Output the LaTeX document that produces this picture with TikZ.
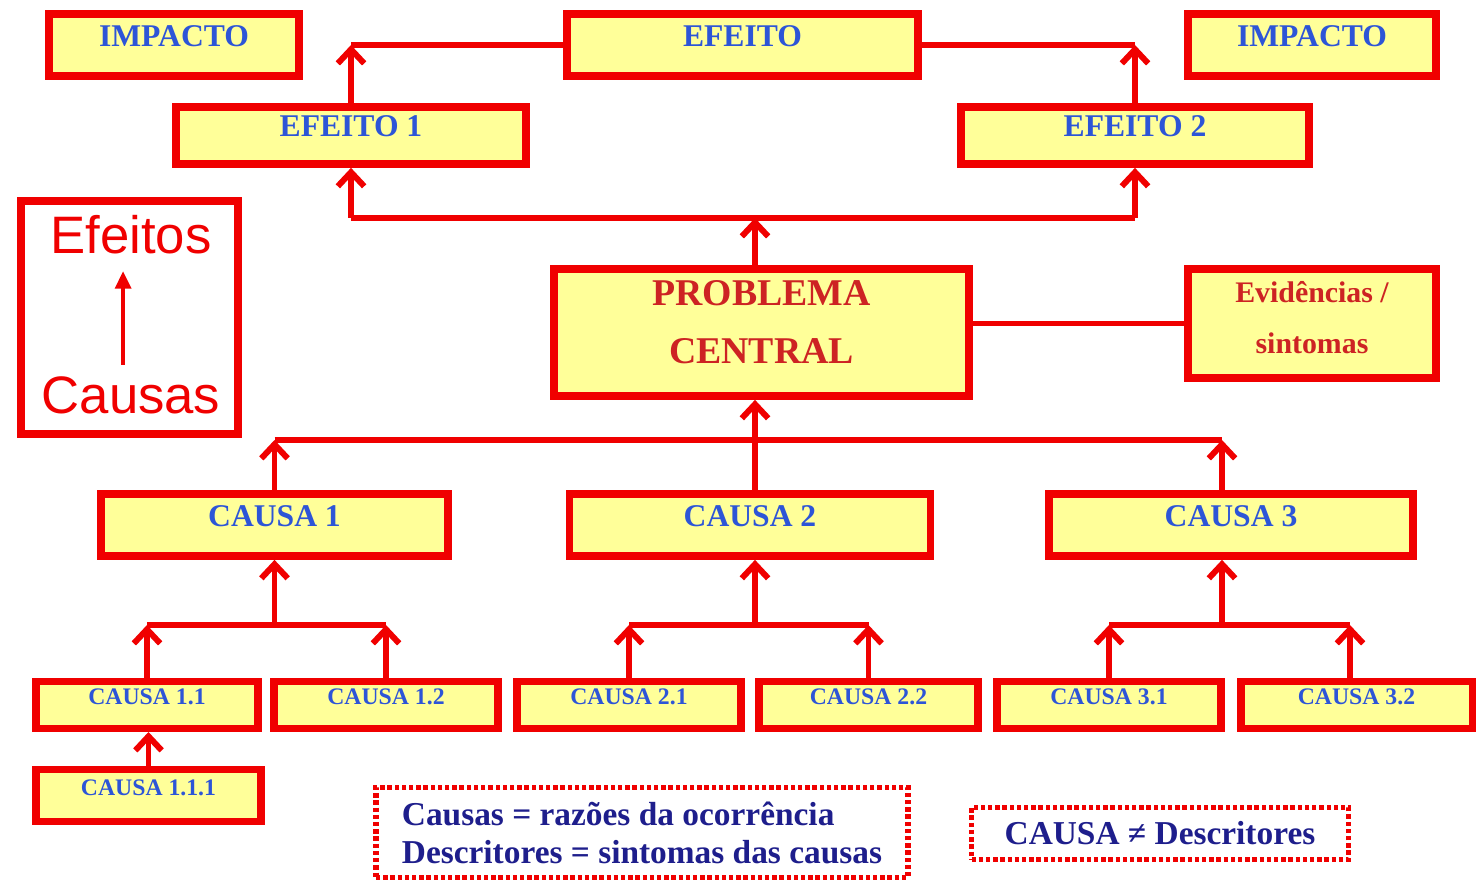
\documentclass[tikz,border=0pt]{standalone}
\usepackage{fontspec}
\setmainfont{Liberation Serif}
\newfontfamily\sansf{Liberation Sans}
\usetikzlibrary{arrows.meta}
\definecolor{lred}{RGB}{240,0,0}
\definecolor{lyel}{RGB}{255,255,153}
\definecolor{lblue}{RGB}{45,85,215}
\definecolor{pred}{RGB}{205,35,35}
\definecolor{lnavy}{RGB}{30,30,140}
\begin{document}
\begin{tikzpicture}[x=0.02cm,y=-0.02cm,
  box/.style={draw=lred, line width=4.4pt, fill=lyel, inner sep=0pt},
  sbox/.style={draw=lred, line width=4pt, fill=lyel, inner sep=0pt},
  wpx/.style={minimum width=#1*0.02cm},
  hpx/.style={minimum height=#1*0.02cm},
  lbl/.style={text=lblue, font=\bfseries\fontsize{18}{21}\selectfont},
  slbl/.style={text=lblue, font=\bfseries\fontsize{13.5}{16}\selectfont},
  ptext/.style={text=pred, font=\bfseries\fontsize{21.5}{33}\selectfont, align=center},
  etext/.style={text=pred, font=\bfseries\fontsize{17}{29}\selectfont, align=center},
  note/.style={draw=lred, line width=3pt, dash pattern=on 2.5pt off 1.6pt, fill=white, inner sep=0pt,
    text=lnavy, font=\bfseries\fontsize{19}{21.6}\selectfont},
  conn/.style={draw=lred, line width=3.4pt},
  arr/.style={conn, -{Straight Barb[length=8pt,width=15pt]}},
  legarr/.style={draw=lred, line width=2.2pt, -{Triangle[length=10pt,width=9pt]}},
]
\useasboundingbox (0,0) rectangle (1478,885);
\fill[white] (0,0) rectangle (1478,885);

% top row
\node[box,wpx=250,hpx=62,label={[lbl,yshift=5pt]center:IMPACTO}] (imp1) at (174,45) {};
\node[box,wpx=351,hpx=62,label={[lbl,yshift=5pt]center:EFEITO}] (efeito) at (742.5,45) {};
\node[box,wpx=248,hpx=62,label={[lbl,yshift=5pt]center:IMPACTO}] (imp2) at (1312,45) {};
\node[box,wpx=350,hpx=57,label={[lbl,yshift=5.5pt]center:EFEITO 1}] (ef1) at (351,135.5) {};
\node[box,wpx=348,hpx=57,label={[lbl,yshift=5.5pt]center:EFEITO 2}] (ef2) at (1135,135.5) {};

% legend box
\node[draw=lred, line width=4.4pt, fill=white, wpx=217, hpx=233] (leg) at (129.5,317.5) {};
\node[text=lred, font=\sansf\fontsize{30}{36}\selectfont] (eff) at (131,235) {Efeitos};
\node[text=lred, font=\sansf\fontsize{30}{36}\selectfont] (cau) at (131,395) {Causas};
\draw[legarr, shorten <=3pt, shorten >=6pt] ([xshift=-4.5pt]cau.north) -- ([xshift=-4.5pt]eff.south);

% central problem
\node[box,wpx=415,hpx=127,label={[ptext,yshift=5.7pt]center:PROBLEMA\\CENTRAL}] (prob) at (761.5,332.5) {};
\node[box,wpx=248,hpx=109,label={[etext,yshift=3.5pt]center:Evidências /\\sintomas}] (evid) at (1312,323.5) {};

% causes
\node[box,wpx=347,hpx=62,label={[lbl,yshift=5pt]center:CAUSA 1}] (c1) at (274.5,525) {};
\node[box,wpx=361,hpx=62,label={[lbl,yshift=5pt]center:CAUSA 2}] (c2) at (750,525) {};
\node[box,wpx=364,hpx=62,label={[lbl,yshift=5pt]center:CAUSA 3}] (c3) at (1231,525) {};

% sub causes
\node[sbox,wpx=222,hpx=47,label={[slbl,yshift=4.5pt]center:CAUSA 1.1}] (c11) at (147,705) {};
\node[sbox,wpx=224,hpx=47,label={[slbl,yshift=4.5pt]center:CAUSA 1.2}] (c12) at (386,705) {};
\node[sbox,wpx=224,hpx=47,label={[slbl,yshift=4.5pt]center:CAUSA 2.1}] (c21) at (629,705) {};
\node[sbox,wpx=219,hpx=47,label={[slbl,yshift=4.5pt]center:CAUSA 2.2}] (c22) at (868.5,705) {};
\node[sbox,wpx=224,hpx=47,label={[slbl,yshift=4.5pt]center:CAUSA 3.1}] (c31) at (1109,705) {};
\node[sbox,wpx=231,hpx=47,label={[slbl,yshift=4.5pt]center:CAUSA 3.2}] (c32) at (1356.5,705) {};
\node[sbox,wpx=225,hpx=52,label={[slbl,yshift=4.5pt]center:CAUSA 1.1.1}] (c111) at (148.5,795.5) {};

% notes
\node[note,wpx=532,hpx=90,align=left] (n1) at (642,832.5) {Causas = razões da ocorrência\\Descritores = sintomas das causas};
\node[note,wpx=377,hpx=52] (n2) at (1160,833.5) {CAUSA ≠ Descritores};

% top connectors
\coordinate (k1) at (ef1.north |- efeito.west);
\coordinate (k2) at (ef2.north |- efeito.east);
\draw[arr] (ef1.north) -- (k1);
\draw[conn] (k1) -- (efeito.west);
\draw[arr] (ef2.north) -- (k2);
\draw[conn] (k2) -- (efeito.east);

% effects bus
\coordinate (hb) at (755,218);
\coordinate (hbl) at (ef1.south |- hb);
\coordinate (hbr) at (ef2.south |- hb);
\draw[conn] (hbl) -- (hbr);
\draw[arr] (hbl) -- (ef1.south);
\draw[arr] (hbr) -- (ef2.south);
\draw[arr] (prob.north -| hb) -- (hb);

% problem -- evidence
\draw[conn] (evid.west) -- (evid.west -| prob.east);

% causes bus
\coordinate (cb) at (755,440);
\coordinate (cbl) at (c1.north |- cb);
\coordinate (cbr) at (c3.north -| 1222,0);
\coordinate (cbr) at (1222,440);
\draw[conn] (cbl) -- (cbr);
\draw[arr] (c1.north) -- (cbl);
\draw[arr] (c3.north -| cbr) -- (cbr);
\draw[arr] (c2.north -| cb) -- (prob.south -| cb);

% sub buses
\coordinate (s1l) at (c11.north |- 0,625);
\coordinate (s1r) at (c12.north |- 0,625);
\coordinate (s1m) at (c1.south |- 0,625);
\draw[conn] (s1l) -- (s1r);
\draw[arr] (c11.north) -- (s1l);
\draw[arr] (c12.north) -- (s1r);
\draw[arr] (s1m) -- (c1.south);

\coordinate (s2l) at (c21.north |- 0,625);
\coordinate (s2r) at (c22.north |- 0,625);
\coordinate (s2m) at (755,625);
\draw[conn] (s2l) -- (s2r);
\draw[arr] (c21.north) -- (s2l);
\draw[arr] (c22.north) -- (s2r);
\draw[arr] (s2m) -- (s2m |- c2.south);

\coordinate (s3l) at (c31.north |- 0,625);
\coordinate (s3r) at (c32.north -| 1350,0);
\coordinate (s3r) at (1350,625);
\coordinate (s3m) at (1222,625);
\draw[conn] (s3l) -- (s3r);
\draw[arr] (c31.north) -- (s3l);
\draw[arr] (c32.north -| s3r) -- (s3r);
\draw[arr] (s3m) -- (s3m |- c3.south);

\draw[arr] (c111.north) -- (c111.north |- c11.south);
\end{tikzpicture}
\end{document}
